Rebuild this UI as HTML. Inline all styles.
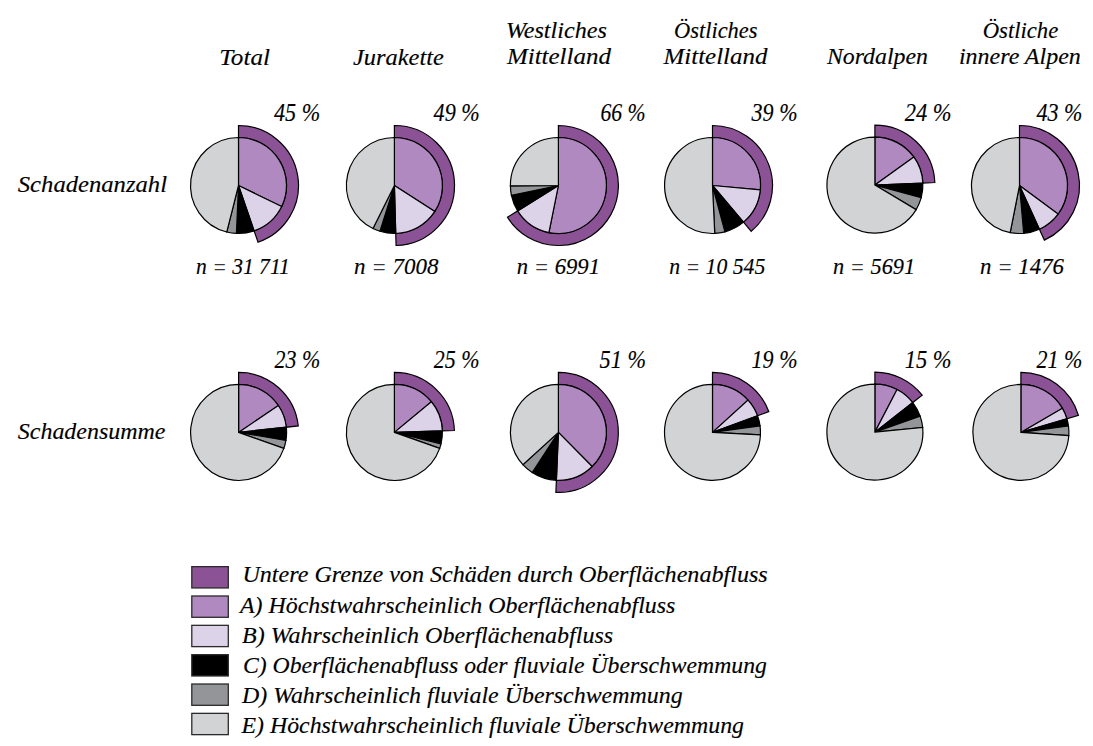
<!DOCTYPE html>
<html><head><meta charset="utf-8"><style>
html,body{margin:0;padding:0;background:#fff;}
svg{display:block;}
text{font-family:"Liberation Serif",serif;font-style:italic;font-size:24px;fill:#000;stroke:#000;stroke-width:0.15px;}
.eq{stroke:none;fill:#3a3a3a;}
</style></head><body>
<svg width="1093" height="746" viewBox="0 0 1093 746">
<rect width="1093" height="746" fill="#fff"/>
<g stroke="#000" stroke-width="1.20" stroke-linejoin="miter">
<path d="M238.50,125.50A60.0,60.0 0 0 1 258.03,242.23L254.13,230.88A48,48 0 0 0 238.50,137.50Z" fill="#8c5296"/>
<path d="M238.50,185.50L238.50,137.50A48,48 0 0 1 281.64,206.54Z" fill="#b189c1"/>
<path d="M238.50,185.50L281.64,206.54A48,48 0 0 1 254.13,230.88Z" fill="#dcd3e8"/>
<path d="M238.50,185.50L254.13,230.88A48,48 0 0 1 236.41,233.45Z" fill="#000000"/>
<path d="M238.50,185.50L236.41,233.45A48,48 0 0 1 226.73,232.03Z" fill="#939598"/>
<path d="M238.50,185.50L226.73,232.03A48,48 0 0 1 238.50,137.50Z" fill="#d1d3d4"/>
</g>
<g stroke="#000" stroke-width="1.20" stroke-linejoin="miter">
<path d="M394.40,125.50A60.0,60.0 0 0 1 396.08,245.48L395.74,233.48A48,48 0 0 0 394.40,137.50Z" fill="#8c5296"/>
<path d="M394.40,185.50L394.40,137.50A48,48 0 0 1 434.79,211.43Z" fill="#b189c1"/>
<path d="M394.40,185.50L434.79,211.43A48,48 0 0 1 395.74,233.48Z" fill="#dcd3e8"/>
<path d="M394.40,185.50L395.74,233.48A48,48 0 0 1 379.97,231.28Z" fill="#000000"/>
<path d="M394.40,185.50L379.97,231.28A48,48 0 0 1 372.98,228.46Z" fill="#939598"/>
<path d="M394.40,185.50L372.98,228.46A48,48 0 0 1 394.40,137.50Z" fill="#d1d3d4"/>
</g>
<g stroke="#000" stroke-width="1.20" stroke-linejoin="miter">
<path d="M558.40,125.50A60.0,60.0 0 1 1 507.46,217.21L517.65,210.87A48,48 0 1 0 558.40,137.50Z" fill="#8c5296"/>
<path d="M558.40,185.50L558.40,137.50A48,48 0 1 1 548.91,232.55Z" fill="#b189c1"/>
<path d="M558.40,185.50L548.91,232.55A48,48 0 0 1 517.65,210.87Z" fill="#dcd3e8"/>
<path d="M558.40,185.50L517.65,210.87A48,48 0 0 1 511.41,195.32Z" fill="#000000"/>
<path d="M558.40,185.50L511.41,195.32A48,48 0 0 1 510.40,185.84Z" fill="#939598"/>
<path d="M558.40,185.50L510.40,185.84A48,48 0 0 1 558.40,137.50Z" fill="#d1d3d4"/>
</g>
<g stroke="#000" stroke-width="1.20" stroke-linejoin="miter">
<path d="M712.50,125.50A60.0,60.0 0 0 1 751.23,231.33L743.48,222.16A48,48 0 0 0 712.50,137.50Z" fill="#8c5296"/>
<path d="M712.50,185.50L712.50,137.50A48,48 0 0 1 760.30,189.85Z" fill="#b189c1"/>
<path d="M712.50,185.50L760.30,189.85A48,48 0 0 1 743.48,222.16Z" fill="#dcd3e8"/>
<path d="M712.50,185.50L743.48,222.16A48,48 0 0 1 724.92,231.86Z" fill="#000000"/>
<path d="M712.50,185.50L724.92,231.86A48,48 0 0 1 714.76,233.45Z" fill="#939598"/>
<path d="M712.50,185.50L714.76,233.45A48,48 0 1 1 712.50,137.50Z" fill="#d1d3d4"/>
</g>
<g stroke="#000" stroke-width="1.20" stroke-linejoin="miter">
<path d="M874.90,125.10A60.0,60.0 0 0 1 934.84,182.48L922.85,183.01A48,48 0 0 0 874.90,137.10Z" fill="#8c5296"/>
<path d="M874.90,185.10L874.90,137.10A48,48 0 0 1 913.83,157.02Z" fill="#b189c1"/>
<path d="M874.90,185.10L913.83,157.02A48,48 0 0 1 922.85,183.01Z" fill="#dcd3e8"/>
<path d="M874.90,185.10L922.85,183.01A48,48 0 0 1 921.22,197.69Z" fill="#000000"/>
<path d="M874.90,185.10L921.22,197.69A48,48 0 0 1 916.17,209.61Z" fill="#939598"/>
<path d="M874.90,185.10L916.17,209.61A48,48 0 1 1 874.90,137.10Z" fill="#d1d3d4"/>
</g>
<g stroke="#000" stroke-width="1.20" stroke-linejoin="miter">
<path d="M1019.50,125.50A60.0,60.0 0 0 1 1044.38,240.10L1039.41,229.18A48,48 0 0 0 1019.50,137.50Z" fill="#8c5296"/>
<path d="M1019.50,185.50L1019.50,137.50A48,48 0 0 1 1058.09,214.05Z" fill="#b189c1"/>
<path d="M1019.50,185.50L1058.09,214.05A48,48 0 0 1 1039.41,229.18Z" fill="#dcd3e8"/>
<path d="M1019.50,185.50L1039.41,229.18A48,48 0 0 1 1023.68,233.32Z" fill="#000000"/>
<path d="M1019.50,185.50L1023.68,233.32A48,48 0 0 1 1010.18,232.59Z" fill="#939598"/>
<path d="M1019.50,185.50L1010.18,232.59A48,48 0 0 1 1019.50,137.50Z" fill="#d1d3d4"/>
</g>
<g stroke="#000" stroke-width="1.20" stroke-linejoin="miter">
<path d="M238.60,372.40A60.0,60.0 0 0 1 298.25,425.92L286.32,427.22A48,48 0 0 0 238.60,384.40Z" fill="#8c5296"/>
<path d="M238.60,432.40L238.60,384.40A48,48 0 0 1 278.35,405.49Z" fill="#b189c1"/>
<path d="M238.60,432.40L278.35,405.49A48,48 0 0 1 286.32,427.22Z" fill="#dcd3e8"/>
<path d="M238.60,432.40L286.32,427.22A48,48 0 0 1 285.93,440.40Z" fill="#000000"/>
<path d="M238.60,432.40L285.93,440.40A48,48 0 0 1 283.87,448.34Z" fill="#939598"/>
<path d="M238.60,432.40L283.87,448.34A48,48 0 1 1 238.60,384.40Z" fill="#d1d3d4"/>
</g>
<g stroke="#000" stroke-width="1.20" stroke-linejoin="miter">
<path d="M394.40,372.40A60.0,60.0 0 0 1 454.37,430.52L442.38,430.89A48,48 0 0 0 394.40,384.40Z" fill="#8c5296"/>
<path d="M394.40,432.40L394.40,384.40A48,48 0 0 1 431.33,401.74Z" fill="#b189c1"/>
<path d="M394.40,432.40L431.33,401.74A48,48 0 0 1 442.38,430.89Z" fill="#dcd3e8"/>
<path d="M394.40,432.40L442.38,430.89A48,48 0 0 1 441.01,443.85Z" fill="#000000"/>
<path d="M394.40,432.40L441.01,443.85A48,48 0 0 1 439.67,448.34Z" fill="#939598"/>
<path d="M394.40,432.40L439.67,448.34A48,48 0 1 1 394.40,384.40Z" fill="#d1d3d4"/>
</g>
<g stroke="#000" stroke-width="1.20" stroke-linejoin="miter">
<path d="M558.40,372.40A60.0,60.0 0 1 1 555.89,492.35L556.39,480.36A48,48 0 1 0 558.40,384.40Z" fill="#8c5296"/>
<path d="M558.40,432.40L558.40,384.40A48,48 0 0 1 592.16,466.52Z" fill="#b189c1"/>
<path d="M558.40,432.40L592.16,466.52A48,48 0 0 1 556.39,480.36Z" fill="#dcd3e8"/>
<path d="M558.40,432.40L556.39,480.36A48,48 0 0 1 532.19,472.61Z" fill="#000000"/>
<path d="M558.40,432.40L532.19,472.61A48,48 0 0 1 522.90,464.70Z" fill="#939598"/>
<path d="M558.40,432.40L522.90,464.70A48,48 0 0 1 558.40,384.40Z" fill="#d1d3d4"/>
</g>
<g stroke="#000" stroke-width="1.20" stroke-linejoin="miter">
<path d="M712.50,372.40A60.0,60.0 0 0 1 768.77,411.58L757.52,415.75A48,48 0 0 0 712.50,384.40Z" fill="#8c5296"/>
<path d="M712.50,432.40L712.50,384.40A48,48 0 0 1 748.00,400.10Z" fill="#b189c1"/>
<path d="M712.50,432.40L748.00,400.10A48,48 0 0 1 757.52,415.75Z" fill="#dcd3e8"/>
<path d="M712.50,432.40L757.52,415.75A48,48 0 0 1 760.04,425.80Z" fill="#000000"/>
<path d="M712.50,432.40L760.04,425.80A48,48 0 0 1 760.43,434.91Z" fill="#939598"/>
<path d="M712.50,432.40L760.43,434.91A48,48 0 1 1 712.50,384.40Z" fill="#d1d3d4"/>
</g>
<g stroke="#000" stroke-width="1.20" stroke-linejoin="miter">
<path d="M874.90,372.10A60.0,60.0 0 0 1 922.18,395.16L912.72,402.55A48,48 0 0 0 874.90,384.10Z" fill="#8c5296"/>
<path d="M874.90,432.10L874.90,384.10A48,48 0 0 1 897.06,389.52Z" fill="#b189c1"/>
<path d="M874.90,432.10L897.06,389.52A48,48 0 0 1 912.72,402.55Z" fill="#dcd3e8"/>
<path d="M874.90,432.10L912.72,402.55A48,48 0 0 1 920.15,416.08Z" fill="#000000"/>
<path d="M874.90,432.10L920.15,416.08A48,48 0 0 1 922.68,427.50Z" fill="#939598"/>
<path d="M874.90,432.10L922.68,427.50A48,48 0 1 1 874.90,384.10Z" fill="#d1d3d4"/>
</g>
<g stroke="#000" stroke-width="1.20" stroke-linejoin="miter">
<path d="M1020.90,372.40A60.0,60.0 0 0 1 1078.43,415.36L1066.92,418.77A48,48 0 0 0 1020.90,384.40Z" fill="#8c5296"/>
<path d="M1020.90,432.40L1020.90,384.40A48,48 0 0 1 1062.43,408.33Z" fill="#b189c1"/>
<path d="M1020.90,432.40L1062.43,408.33A48,48 0 0 1 1066.92,418.77Z" fill="#dcd3e8"/>
<path d="M1020.90,432.40L1066.92,418.77A48,48 0 0 1 1068.46,425.89Z" fill="#000000"/>
<path d="M1020.90,432.40L1068.46,425.89A48,48 0 0 1 1068.79,435.58Z" fill="#939598"/>
<path d="M1020.90,432.40L1068.79,435.58A48,48 0 1 1 1020.90,384.40Z" fill="#d1d3d4"/>
</g>
<text x="219.2" y="64.7" textLength="50.8" lengthAdjust="spacingAndGlyphs">Total</text>
<text x="353.0" y="64.7" textLength="90.8" lengthAdjust="spacingAndGlyphs">Jurakette</text>
<text x="505.9" y="38.4" textLength="100.9" lengthAdjust="spacingAndGlyphs">Westliches</text>
<text x="506.9" y="64.4" textLength="104.1" lengthAdjust="spacingAndGlyphs">Mittelland</text>
<text x="674.0" y="38.4" textLength="83.5" lengthAdjust="spacingAndGlyphs">Östliches</text>
<text x="663.6" y="64.4" textLength="103.8" lengthAdjust="spacingAndGlyphs">Mittelland</text>
<text x="826.9" y="64.4" textLength="101.1" lengthAdjust="spacingAndGlyphs">Nordalpen</text>
<text x="982.7" y="37.5" textLength="75.6" lengthAdjust="spacingAndGlyphs">Östliche</text>
<text x="958.9" y="63.7" textLength="121.9" lengthAdjust="spacingAndGlyphs">innere Alpen</text>
<text x="17.8" y="191.7" textLength="149.2" lengthAdjust="spacingAndGlyphs">Schadenanzahl</text>
<text x="17.8" y="438.7" textLength="147.7" lengthAdjust="spacingAndGlyphs">Schadensumme</text>
<text x="274.0" y="120.6" textLength="46.2" lengthAdjust="spacingAndGlyphs" style="font-size:25.5px">45 %</text>
<text x="433.6" y="120.6" textLength="46.1" lengthAdjust="spacingAndGlyphs" style="font-size:25.5px">49 %</text>
<text x="600.5" y="120.6" textLength="45.2" lengthAdjust="spacingAndGlyphs" style="font-size:25.5px">66 %</text>
<text x="751.6" y="120.6" textLength="45.9" lengthAdjust="spacingAndGlyphs" style="font-size:25.5px">39 %</text>
<text x="904.7" y="120.6" textLength="46.9" lengthAdjust="spacingAndGlyphs" style="font-size:25.5px">24 %</text>
<text x="1036.5" y="120.6" textLength="45.9" lengthAdjust="spacingAndGlyphs" style="font-size:25.5px">43 %</text>
<text x="274.6" y="367.5" textLength="45.8" lengthAdjust="spacingAndGlyphs" style="font-size:25.5px">23 %</text>
<text x="433.8" y="367.5" textLength="45.8" lengthAdjust="spacingAndGlyphs" style="font-size:25.5px">25 %</text>
<text x="599.6" y="367.5" textLength="46.4" lengthAdjust="spacingAndGlyphs" style="font-size:25.5px">51 %</text>
<text x="751.6" y="367.5" textLength="45.9" lengthAdjust="spacingAndGlyphs" style="font-size:25.5px">19 %</text>
<text x="904.7" y="367.5" textLength="46.9" lengthAdjust="spacingAndGlyphs" style="font-size:25.5px">15 %</text>
<text x="1036.5" y="367.5" textLength="45.9" lengthAdjust="spacingAndGlyphs" style="font-size:25.5px">21 %</text>
<text x="196.0" y="273.6" textLength="93.9" lengthAdjust="spacingAndGlyphs">n <tspan class="eq" dy="1.2">=</tspan><tspan dy="-1.2"> 31 711</tspan></text>
<text x="354.1" y="273.6" textLength="84.5" lengthAdjust="spacingAndGlyphs">n <tspan class="eq" dy="1.2">=</tspan><tspan dy="-1.2"> 7008</tspan></text>
<text x="516.7" y="273.6" textLength="83.3" lengthAdjust="spacingAndGlyphs">n <tspan class="eq" dy="1.2">=</tspan><tspan dy="-1.2"> 6991</tspan></text>
<text x="669.2" y="273.6" textLength="96.1" lengthAdjust="spacingAndGlyphs">n <tspan class="eq" dy="1.2">=</tspan><tspan dy="-1.2"> 10 545</tspan></text>
<text x="833.1" y="273.6" textLength="82.0" lengthAdjust="spacingAndGlyphs">n <tspan class="eq" dy="1.2">=</tspan><tspan dy="-1.2"> 5691</tspan></text>
<text x="980.1" y="273.6" textLength="83.9" lengthAdjust="spacingAndGlyphs">n <tspan class="eq" dy="1.2">=</tspan><tspan dy="-1.2"> 1476</tspan></text>
<text x="242.4" y="581.9" textLength="525.3" lengthAdjust="spacingAndGlyphs">Untere Grenze von Schäden durch Oberflächenabfluss</text>
<text x="240.0" y="612.7" textLength="435.4" lengthAdjust="spacingAndGlyphs">A) Höchstwahrscheinlich Oberflächenabfluss</text>
<text x="242.0" y="642.7" textLength="371.1" lengthAdjust="spacingAndGlyphs">B) Wahrscheinlich Oberflächenabfluss</text>
<text x="243.0" y="672.7" textLength="523.9" lengthAdjust="spacingAndGlyphs">C) Oberflächenabfluss oder fluviale Überschwemmung</text>
<text x="242.0" y="702.7" textLength="440.6" lengthAdjust="spacingAndGlyphs">D) Wahrscheinlich fluviale Überschwemmung</text>
<text x="241.5" y="732.6" textLength="502.5" lengthAdjust="spacingAndGlyphs">E) Höchstwahrscheinlich fluviale Überschwemmung</text>
<rect x="191.8" y="566.65" width="36.5" height="21.3" fill="#8c5296" stroke="#2a2a2a" stroke-width="1.3"/>
<rect x="191.8" y="595.99" width="36.5" height="21.3" fill="#b189c1" stroke="#2a2a2a" stroke-width="1.3"/>
<rect x="191.8" y="625.33" width="36.5" height="21.3" fill="#dcd3e8" stroke="#2a2a2a" stroke-width="1.3"/>
<rect x="191.8" y="654.67" width="36.5" height="21.3" fill="#000000" stroke="#2a2a2a" stroke-width="1.3"/>
<rect x="191.8" y="684.01" width="36.5" height="21.3" fill="#939598" stroke="#2a2a2a" stroke-width="1.3"/>
<rect x="191.8" y="713.35" width="36.5" height="21.3" fill="#d1d3d4" stroke="#2a2a2a" stroke-width="1.3"/>
</svg>
</body></html>
